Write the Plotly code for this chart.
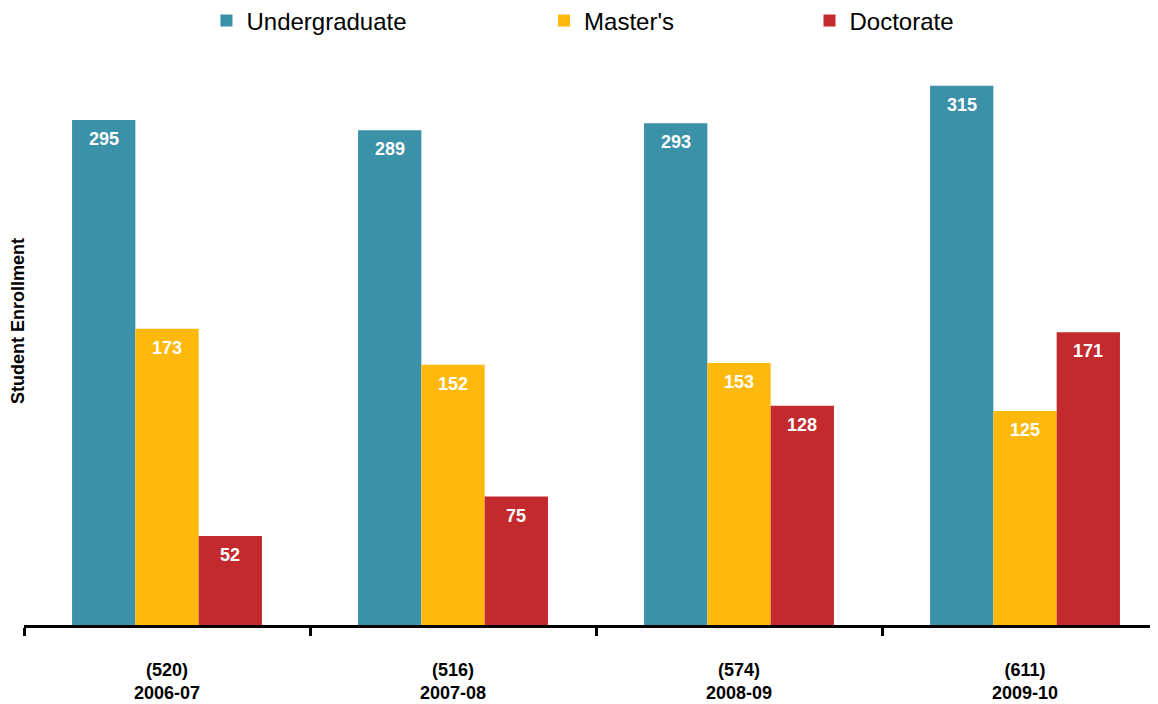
import plotly.graph_objects as go

years = ["2006-07", "2007-08", "2008-09", "2009-10"]
undergrad = [295, 289, 293, 315]
masters = [173, 152, 153, 125]
doctorate = [52, 75, 128, 171]

series = [
    ("Undergraduate", undergrad, "#3A91A8", "legend", 0.1609),
    ("Master's", masters, "#FFB80C", "legend2", 0.4586),
    ("Doctorate", doctorate, "#C32A2E", "legend3", 0.6927),
]

totals = [u + m + d for u, m, d in zip(undergrad, masters, doctorate)]
cats = [f"({t})<br>{y}" for t, y in zip(totals, years)]

FONT = "Arial, Liberation Sans, sans-serif"
BAR_W = 0.2213

fig = go.Figure()
for name, vals, color, leg, _ in series:
    fig.add_trace(go.Bar(
        x=cats, y=vals, name=name, legend=leg, showlegend=True,
        marker_color=color, marker_line_width=0,
    ))

# value labels sit a little below each bar top
for j, (name, vals, color, _, _) in enumerate(series):
    for i, v in enumerate(vals):
        fig.add_annotation(
            x=i + (j - 1) * BAR_W, y=v, text=f"<b>{v}</b>",
            showarrow=False, yshift=-19, yanchor="middle",
            font=dict(family=FONT, size=18, color="white"),
        )

fig.add_annotation(
    text="<b>Student Enrollment</b>", textangle=-90,
    xref="paper", yref="paper", x=-0.0053, y=0.538,
    xanchor="center", yanchor="middle", showarrow=False,
    font=dict(family=FONT, size=18, color="black"),
)

# one legend box per series so each entry can sit where the original has it
legends = {}
for name, vals, color, leg, lx in series:
    legends[leg] = dict(
        orientation="h", x=lx, xanchor="left", y=1.069, yanchor="middle",
        font=dict(family=FONT, size=24, color="black"),
        itemwidth=30, bgcolor="rgba(0,0,0,0)",
    )

fig.update_layout(
    width=1150, height=696,
    margin=dict(l=16, r=0, t=52, b=79, autoexpand=False),
    paper_bgcolor="white", plot_bgcolor="white",
    showlegend=True,
    barmode="group", bargap=0.336, bargroupgap=0,
    font=dict(family=FONT, color="black"),
    **legends,
    xaxis=dict(
        range=[-0.5, 3.465],
        showline=True, linecolor="black", linewidth=3,
        ticks="outside", tickson="boundaries", ticklen=8,
        tickwidth=3, tickcolor="black",
        ticklabelstandoff=26,
        tickfont=dict(family=FONT, size=18, color="black", weight="bold"),
        showgrid=False, zeroline=False,
    ),
    yaxis=dict(
        range=[0, 330], showticklabels=False, showgrid=False,
        zeroline=False, showline=False, ticks="",
    ),
)

fig.write_html("out.html")
